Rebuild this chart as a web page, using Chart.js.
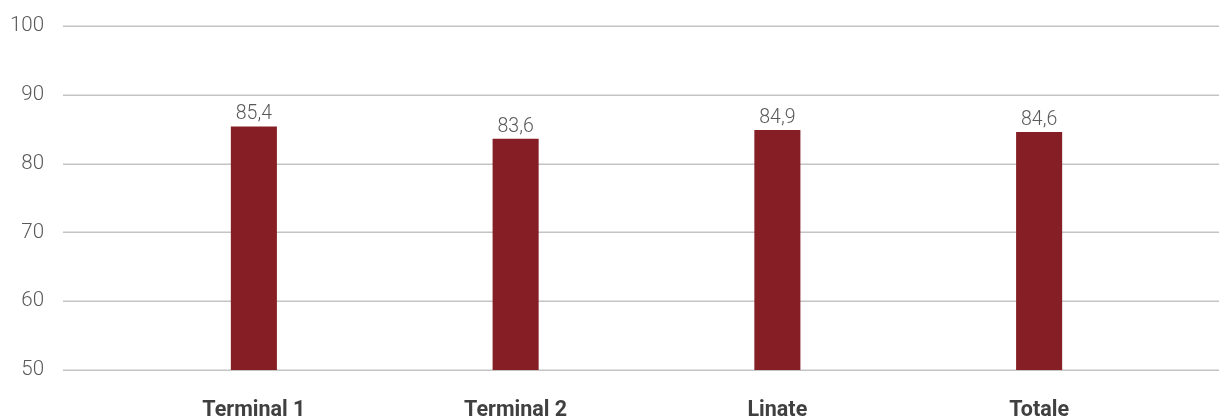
<!DOCTYPE html>
<html>
<head>
<meta charset="utf-8">
<script src="https://cdn.jsdelivr.net/npm/chart.js@4/dist/chart.umd.min.js"></script>
<style>
  html, body { margin: 0; padding: 0; background: #ffffff; overflow: hidden; }
  canvas { display: block; }
</style>
</head>
<body>
<canvas id="c" width="1219" height="420"></canvas>
<script>
// Categories and values
const categories = ['Terminal 1', 'Terminal 2', 'Linate', 'Totale'];
const values = [85.4, 83.6, 84.9, 84.6];
const yTicks = [50, 60, 70, 80, 90, 100];

const barColor = '#861F25';
const fmt = v => v.toFixed(1).replace('.', ',');

// Horizontal grid lines spanning the full width, placed by the y scale
const wideGrid = {
  id: 'wideGrid',
  beforeDatasetsDraw(chart) {
    const { ctx } = chart;
    const y = chart.scales.y;
    ctx.save();
    ctx.strokeStyle = '#c4c4c4';
    ctx.lineWidth = 1.5;
    yTicks.forEach(t => {
      const py = Math.round(y.getPixelForValue(t)) + 0.25;
      ctx.beginPath();
      ctx.moveTo(63, py);
      ctx.lineTo(chart.width, py);
      ctx.stroke();
    });
    ctx.restore();
  }
};

// Value labels above each bar
const valueLabels = {
  id: 'valueLabels',
  afterDatasetsDraw(chart) {
    const { ctx } = chart;
    const meta = chart.getDatasetMeta(0);
    ctx.save();
    ctx.font = '300 19.5px Roboto';
    ctx.fillStyle = '#595959';
    ctx.textAlign = 'center';
    ctx.textBaseline = 'alphabetic';
    meta.data.forEach((bar, i) => {
      ctx.fillText(fmt(values[i]), bar.x, bar.y - 7);
    });
    ctx.restore();
  }
};

new Chart(document.getElementById('c'), {
  type: 'bar',
  data: {
    labels: categories,
    datasets: [{
      data: values,
      backgroundColor: barColor,
      borderWidth: 0,
      categoryPercentage: 1,
      barPercentage: 0.176
    }]
  },
  options: {
    responsive: false,
    animation: false,
    layout: { padding: { top: 26, right: 49, bottom: 0, left: 0 } },
    plugins: { legend: { display: false }, tooltip: { enabled: false } },
    scales: {
      x: {
        grid: { display: false, drawTicks: false },
        border: { display: false },
        ticks: {
          padding: 28,
          maxRotation: 0,
          autoSkip: false,
          color: '#404040',
          font: { family: 'Roboto', size: 21.5, weight: 'bold' }
        },
        afterFit(scale) { scale.height = 50; }
      },
      y: {
        min: 50,
        max: 100,
        afterBuildTicks(scale) { scale.ticks = yTicks.map(v => ({ value: v })); },
        grid: { display: true, color: 'rgba(0,0,0,0)', drawTicks: true, tickLength: 71 },
        border: { display: false },
        ticks: {
          padding: 8,
          color: '#595959',
          font: { family: 'Roboto', size: 20.5, weight: '300' }
        },
        afterFit(scale) { scale.width = 123; }
      }
    }
  },
  plugins: [wideGrid, valueLabels]
});
</script>
</body>
</html>
